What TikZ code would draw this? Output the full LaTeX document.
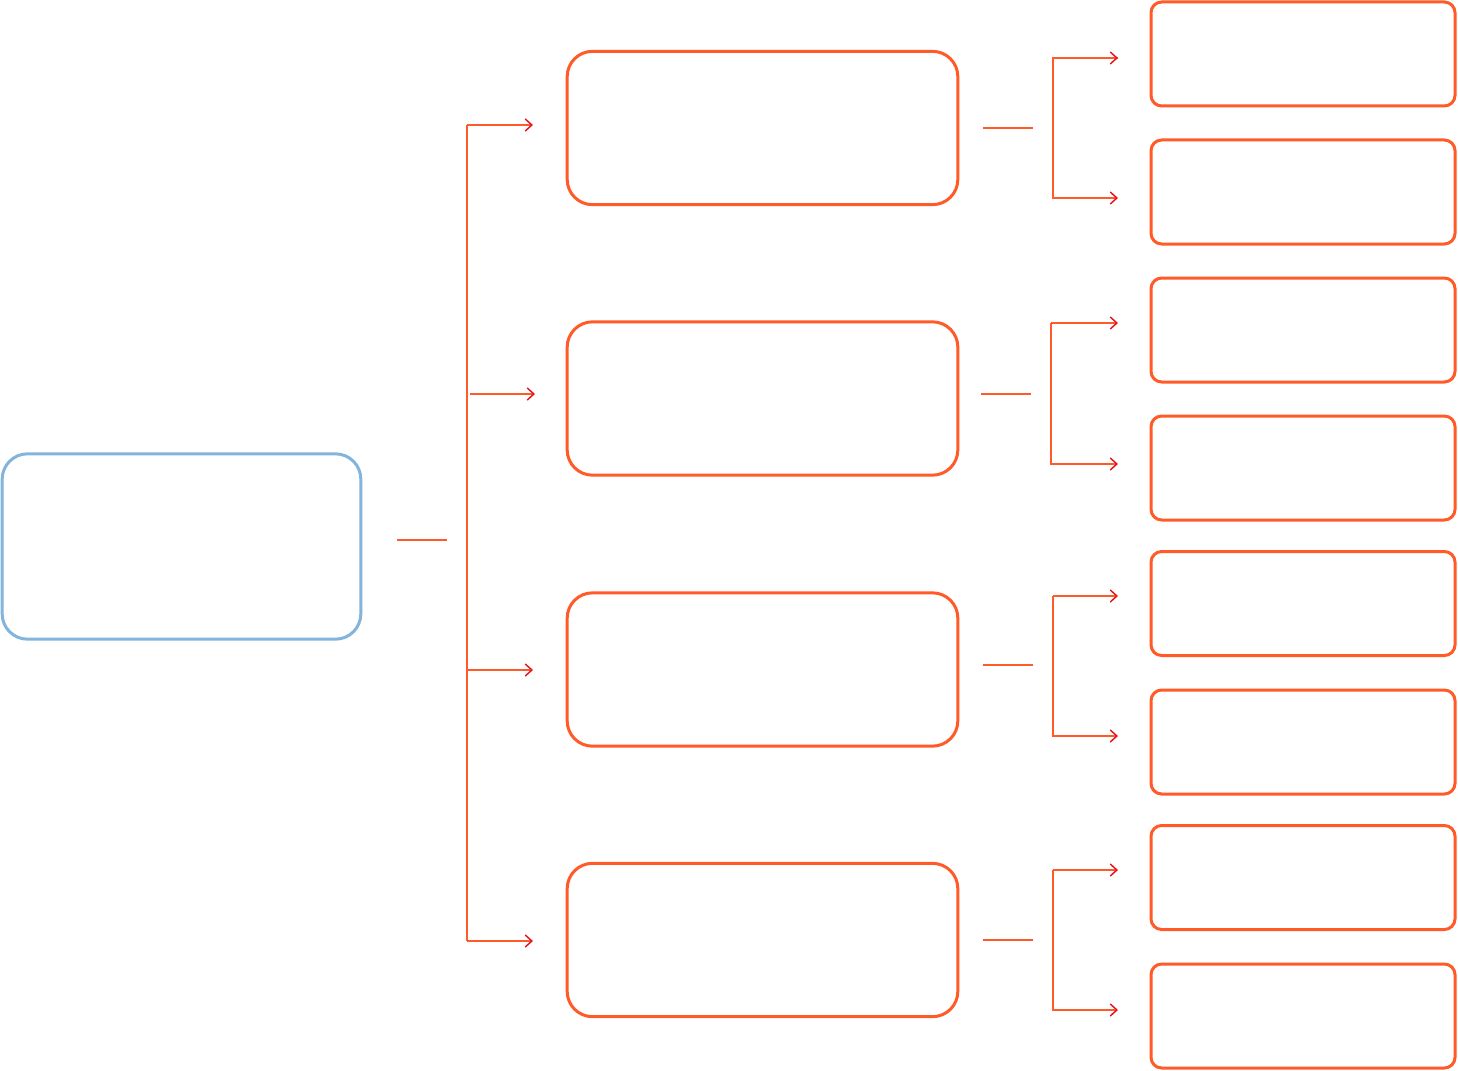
\documentclass[tikz,border=0pt]{standalone}
\usetikzlibrary{arrows.meta}
\definecolor{boxorange}{RGB}{255,90,40}
\definecolor{boxblue}{RGB}{130,180,220}
\definecolor{tipred}{RGB}{230,20,30}
\tikzset{every picture/.style={line width=0.75pt}}
\tikzset{
  bigbox/.style={draw=boxorange,line width=2.25pt,rounded corners=19pt,minimum width=293pt,minimum height=115pt},
  smallbox/.style={draw=boxorange,line width=2.25pt,rounded corners=8pt,minimum width=228pt,minimum height=78pt},
  rootbox/.style={draw=boxblue,line width=2.25pt,rounded corners=19pt,minimum width=269pt,minimum height=139pt},
  link/.style={draw=boxorange,line width=1.1pt},
  arr/.style={link,-{Straight Barb[color=tipred,length=5pt,width=9pt]}}
}
\begin{document}
\begin{tikzpicture}[x=0.75pt,y=0.75pt,yscale=-1,xscale=1]
\useasboundingbox (0,0) rectangle (1458,1070);

% root
\node [rootbox] (root) at (181.5,546.5) {};
% middle level
\node [bigbox] (m1) at (762.5,128) {};
\node [bigbox] (m2) at (762.5,398.5) {};
\node [bigbox] (m3) at (762.5,669.5) {};
\node [bigbox] (m4) at (762.5,940) {};
% right level
\node [smallbox] (r1) at (1303,54) {};
\node [smallbox] (r2) at (1303,192) {};
\node [smallbox] (r3) at (1303,330) {};
\node [smallbox] (r4) at (1303,468) {};
\node [smallbox] (r5) at (1303,603.5) {};
\node [smallbox] (r6) at (1303,742) {};
\node [smallbox] (r7) at (1303,877.5) {};
\node [smallbox] (r8) at (1303,1016) {};

% root to middle
\coordinate (s0) at (397,540);
\coordinate (e0) at (447,540);
\draw [link] (s0) -- (e0);
\draw [link] (467,125) -- (467,941);
\draw [arr] (467,125) -- (533,125);
\draw [arr] (470,394) -- (535,394);
\draw [arr] (467,670) -- (533,670);
\draw [arr] (467,941) -- (533,941);

% middle to right
\draw [link] (983,128) -- (1033,128);
\draw [arr] (1118,58) -| (1053,198) -- (1118,198);
\draw [arr] (1053,58) -- (1118,58);
\draw [link] (981,394) -- (1031,394);
\draw [arr] (1051,323) |- (1118,464);
\draw [arr] (1051,323) -- (1118,323);
\draw [link] (983,665) -- (1033,665);
\draw [arr] (1053,596) |- (1118,736);
\draw [arr] (1053,596) -- (1118,596);
\draw [link] (983,940) -- (1033,940);
\draw [arr] (1053,870) |- (1118,1010);
\draw [arr] (1053,870) -- (1118,870);

\end{tikzpicture}
\end{document}
